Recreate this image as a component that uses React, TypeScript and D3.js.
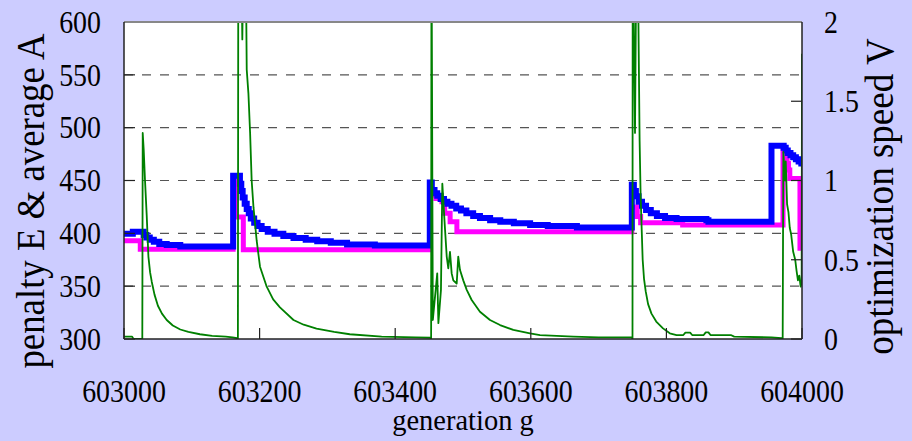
import React from "react";
import * as d3 from "d3";

const xTicks = [603000, 603200, 603400, 603600, 603800, 604000];
const yLeftTicks = [300, 350, 400, 450, 500, 550, 600];
const gridValues = [350, 400, 450, 500, 550];
const yRightTicks = [0, 0.5, 1, 1.5, 2];
const yRightLabels = ["0", "0.5", "1", "1.5", "2"];

// penalty E (magenta), left axis
const penaltyE: [number, number][] = [
  [603000, 393], [603024, 385], [603161, 454], [603165, 415.5], [603176, 384.5],
  [603451, 436], [603460, 433], [603469, 430], [603473, 419], [603481, 411], [603491, 401.5],
  [603749, 425], [603757, 416], [603762, 410], [603824, 408],
  [603972, 479], [603975, 472], [603978, 466], [603980, 460], [603982, 452],
  [603997, 386], [604000, 386],
];

// average A (blue), left axis
const averageA: [number, number][] = [
  [603000, 399.5], [603013, 401.5], [603029, 398.5], [603033, 396], [603038, 394], [603044, 392],
  [603052, 390], [603063, 389], [603083, 387.5],
  [603161, 454.5], [603171, 447], [603173, 440], [603175, 434], [603178, 428], [603181, 423],
  [603184, 419], [603187, 414], [603192, 410], [603197, 407], [603203, 404], [603212, 401.5],
  [603222, 399.5], [603235, 397.5], [603250, 395.5], [603268, 394], [603285, 392.5],
  [603305, 391], [603329, 389.5], [603370, 388.5],
  [603451, 448], [603454, 441], [603458, 438], [603462, 435.5], [603467, 432.5], [603472, 430],
  [603477, 428], [603483, 426], [603490, 423.5], [603497, 421.5], [603505, 419], [603515, 416.5],
  [603525, 414.5], [603540, 412.5], [603555, 411], [603575, 409.5], [603599, 408], [603625, 407],
  [603668, 405.5],
  [603749, 446], [603752, 440], [603755, 435], [603759, 430], [603764, 426], [603770, 422],
  [603777, 419], [603786, 416.5], [603798, 414.5], [603815, 413.5], [603859, 412.5], [603862, 411],
  [603955, 483], [603973, 481], [603976, 478.5], [603979, 476], [603983, 474], [603987, 472],
  [603991, 470], [603995, 468], [603999, 466], [604000, 466],
];

// optimization speed V (green), right axis
const speedV: [number, number][] = [
  [603000, 0.015], [603012, 0.015], [603014, 0], [603027, 0], [603027.6, 1.3], [603029, 1.2],
  [603031, 1.0], [603033.5, 0.78], [603036, 0.52], [603038.5, 0.42], [603041, 0.36], [603045, 0.28],
  [603050, 0.21], [603056, 0.16], [603063, 0.12], [603072, 0.085], [603083, 0.06], [603095, 0.045],
  [603112, 0.03], [603130, 0.02], [603150, 0.015], [603160, 0.01], [603167, 0.005],
  [603168, 0], [603168.6, 2.6], [603173, 2.4], [603174.5, 1.89], [603176, 2.4], [603180, 2.2],
  [603181, 1.7], [603183.5, 1.55], [603186, 1.3], [603188.3, 1.0], [603191, 0.83], [603195.7, 0.62],
  [603200.6, 0.456], [603210.5, 0.33], [603220, 0.25], [603230, 0.2], [603250, 0.12], [603265, 0.09],
  [603284, 0.065], [603310, 0.045], [603333, 0.03], [603380, 0.015], [603430, 0.01], [603452, 0.008],
  [603453, 0], [603453.5, 2.6], [603455.5, 0.12], [603462, 0.414], [603463.7, 0.1], [603467.5, 0.31],
  [603469.5, 0.98], [603473.5, 0.69], [603476, 0.52], [603478.3, 0.446], [603480.8, 0.55],
  [603483.3, 0.414], [603485.7, 0.37], [603490.7, 0.35], [603493, 0.52], [603495.6, 0.435],
  [603500.4, 0.37], [603505.5, 0.31], [603512.8, 0.246], [603525, 0.172], [603539.8, 0.12],
  [603554.6, 0.088], [603574.2, 0.057], [603598.8, 0.036], [603613.6, 0.025], [603662.7, 0.015],
  [603700, 0.01], [603749, 0.01],
  [603750, 0], [603750.3, 2.6], [603753.7, 1.3], [603756, 2.6], [603758.5, 2.1], [603760.5, 1.25],
  [603762, 0.9], [603763.5, 0.7], [603765, 0.5], [603767, 0.38], [603769.5, 0.3], [603773, 0.22],
  [603778, 0.16], [603785, 0.11], [603795, 0.067], [603805, 0.036], [603815, 0.025], [603825, 0.025],
  [603828, 0.04], [603835, 0.04], [603838, 0.025], [603855, 0.025], [603858, 0.042], [603862, 0.042],
  [603865, 0.025], [603895, 0.025], [603900, 0.015], [603955, 0.01], [603970, 0.005],
  [603971.5, 0], [603972.5, 1.18], [603975, 1.0], [603976, 1.12], [603978, 0.85], [603980, 0.8],
  [603982, 0.7], [603984, 0.66], [603987, 0.55], [603990, 0.5], [603992, 0.43], [603994, 0.37],
  [603996, 0.4], [603998, 0.33], [603999.5, 0.36], [604000, 1.8],
];

const W = 912;
const H = 441;
const L = 124, R = 802, T = 22, B = 339;
const FONT = "Liberation Serif, Times New Roman, Times, serif";
const textStyle = { fontFamily: FONT };

export default function App() {
  const x = d3.scaleLinear().domain([603000, 604000]).range([L, R]);
  const yL = d3.scaleLinear().domain([300, 600]).range([B, T]);
  const yR = d3.scaleLinear().domain([0, 2]).range([B, T]);

  const stepLine = d3
    .line<[number, number]>()
    .x((d) => x(d[0]))
    .y((d) => yL(d[1]))
    .curve(d3.curveStepAfter);
  const vLine = d3
    .line<[number, number]>()
    .x((d) => x(d[0]))
    .y((d) => yR(d[1]));

  const tickLen = 11;

  return (
    <svg width={W} height={H} style={{ position: "absolute", left: 0, top: 0 }}>
      <defs>
        <clipPath id="plotClip">
          <rect x={L} y={T} width={R - L} height={B - T} />
        </clipPath>
      </defs>
      <rect x={0} y={0} width={W} height={H} fill="#ccccff" />
      <rect x={L} y={T} width={R - L} height={B - T} fill="#ffffff" />

      {gridValues.map((v) => (
        <line key={"g" + v} x1={L} x2={R} y1={yL(v)} y2={yL(v)} stroke="#555" strokeWidth={1.2} strokeDasharray="9,9" />
      ))}

      <g clipPath="url(#plotClip)" fill="none">
        <path d={stepLine(penaltyE) || ""} stroke="#ff00ff" strokeWidth={5} strokeLinejoin="miter" />
        <path d={stepLine(averageA) || ""} stroke="#0000ff" strokeWidth={6} strokeLinejoin="miter" />
        <path d={vLine(speedV) || ""} stroke="#008000" strokeWidth={1.8} strokeLinejoin="round" />
      </g>

      {yLeftTicks.map((v) => (
        <line key={"lt" + v} x1={L} x2={L + tickLen} y1={yL(v)} y2={yL(v)} stroke="#222" strokeWidth={1.2} />
      ))}
      {yRightTicks.map((v) => (
        <line key={"rt" + v} x1={R - tickLen} x2={R} y1={yR(v)} y2={yR(v)} stroke="#222" strokeWidth={1.2} />
      ))}
      {xTicks.map((v) => (
        <line key={"xt" + v} x1={x(v)} x2={x(v)} y1={B} y2={B - tickLen} stroke="#222" strokeWidth={1.2} />
      ))}

      <line x1={L} x2={R} y1={T} y2={T} stroke="#888" strokeWidth={1.8} />
      <line x1={L} x2={L} y1={T} y2={B} stroke="#222" strokeWidth={1.5} />
      <line x1={R} x2={R} y1={T} y2={B} stroke="#222" strokeWidth={1.5} />
      <line x1={L} x2={R} y1={B} y2={B} stroke="#222" strokeWidth={1.5} />

      {yLeftTicks.map((v) => (
        <text key={"ll" + v} style={textStyle} transform={`translate(101,${yL(v) + 10.8}) scale(0.9,1)`} textAnchor="end" fontSize={31} fill="#000">
          {v}
        </text>
      ))}
      {yRightTicks.map((v, i) => (
        <text key={"rl" + v} style={textStyle} transform={`translate(824,${yR(v) + 10.8}) scale(0.9,1)`} textAnchor="start" fontSize={31} fill="#000">
          {yRightLabels[i]}
        </text>
      ))}
      {xTicks.map((v) => (
        <text key={"xl" + v} style={textStyle} transform={`translate(${x(v)},401.5) scale(0.9,1)`} textAnchor="middle" fontSize={31} fill="#000">
          {v}
        </text>
      ))}

      <text style={textStyle} transform={`translate(${(L + R) / 2},430) scale(0.95,1)`} textAnchor="middle" fontSize={30} fill="#000">
        generation g
      </text>
      <text style={textStyle} transform="translate(44,201) rotate(-90) scale(0.92,1)" textAnchor="middle" fontSize={40} fill="#000">
        penalty E &amp; average A
      </text>
      <text style={textStyle} transform="translate(893,196.5) rotate(-90) scale(0.927,1)" textAnchor="middle" fontSize={40} fill="#000">
        optimization speed V
      </text>
    </svg>
  );
}
